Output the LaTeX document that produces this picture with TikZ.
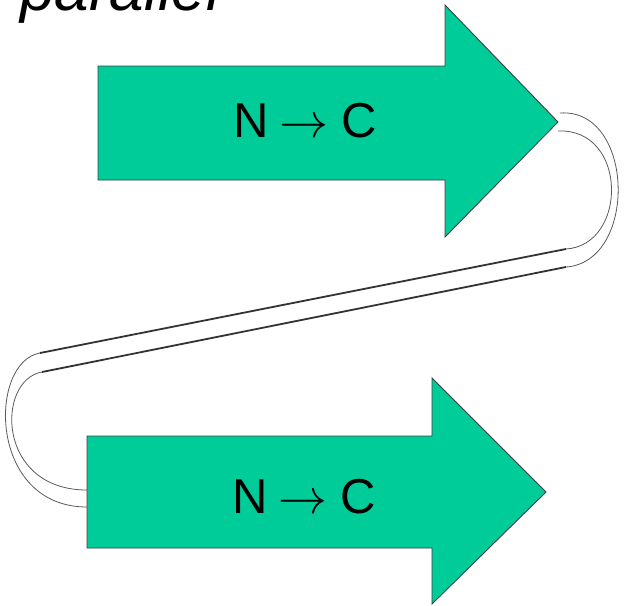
\documentclass[tikz,border=0pt]{standalone}
\usepackage{fontspec}
\usepackage{graphicx}
\setmainfont{Liberation Sans}
\definecolor{strandgreen}{RGB}{0,204,153}
\tikzset{
  strand/.style={fill=strandgreen, draw=black!75, line width=0.9pt, line join=miter},
  loopline/.style={draw=black!65, line width=0.8pt},
  rung/.style={draw=black!80, line width=1.8pt},
  ntext/.style={font=\fontsize{49}{56}\selectfont, inner sep=0pt, anchor=base},
}
\newcommand{\ntoc}{N\hspace{0.22em}{\fontsize{10}{12}\selectfont\scalebox{4.9}{$\rightarrow$}}\hspace{0.26em}C}
\begin{document}
\begin{tikzpicture}[x=1pt,y=-1pt]
\useasboundingbox (0,0) rectangle (625,606);
\clip (0,0) rectangle (625,606);
% title
\node[anchor=base west, inner sep=0pt, font=\itshape\fontsize{62}{70}\selectfont] (title) at (20,10) {parallel};
% arrows (strands)
\draw[strand] (98,66) -- (445,66) -- (445,5) -- (558,122) -- (445,237) -- (445,180) -- (98,180) -- cycle;
\draw[strand] (87,436) -- (432,436) -- (432,378) -- (546,492) -- (432,604) -- (432,548) -- (87,548) -- cycle;
\node[ntext] (n1) at (305,137) {\ntoc};
\node[ntext] (n2) at (304,513) {\ntoc};
% connection points
\coordinate (ra) at (560,113);
\coordinate (rb) at (558,131);
\coordinate (du1) at (566,249);
\coordinate (dl1) at (566,267);
\coordinate (du2) at (40,353);
\coordinate (dl2) at (42,372);
\coordinate (la) at (87,507);
\coordinate (lb) at (87,490);
% loops
\draw[loopline] (ra) .. controls (635,108) and (638,262) .. (dl1);
\draw[loopline] (rb) .. controls (628,128) and (628,245) .. (du1);
\draw[rung] (du1) -- (du2);
\draw[rung] (dl1) -- (dl2);
\draw[loopline] (du2) .. controls (-12,362) and (-12,507) .. (la);
\draw[loopline] (dl2) .. controls (-4,380) and (-4,490) .. (lb);
\end{tikzpicture}
\end{document}
